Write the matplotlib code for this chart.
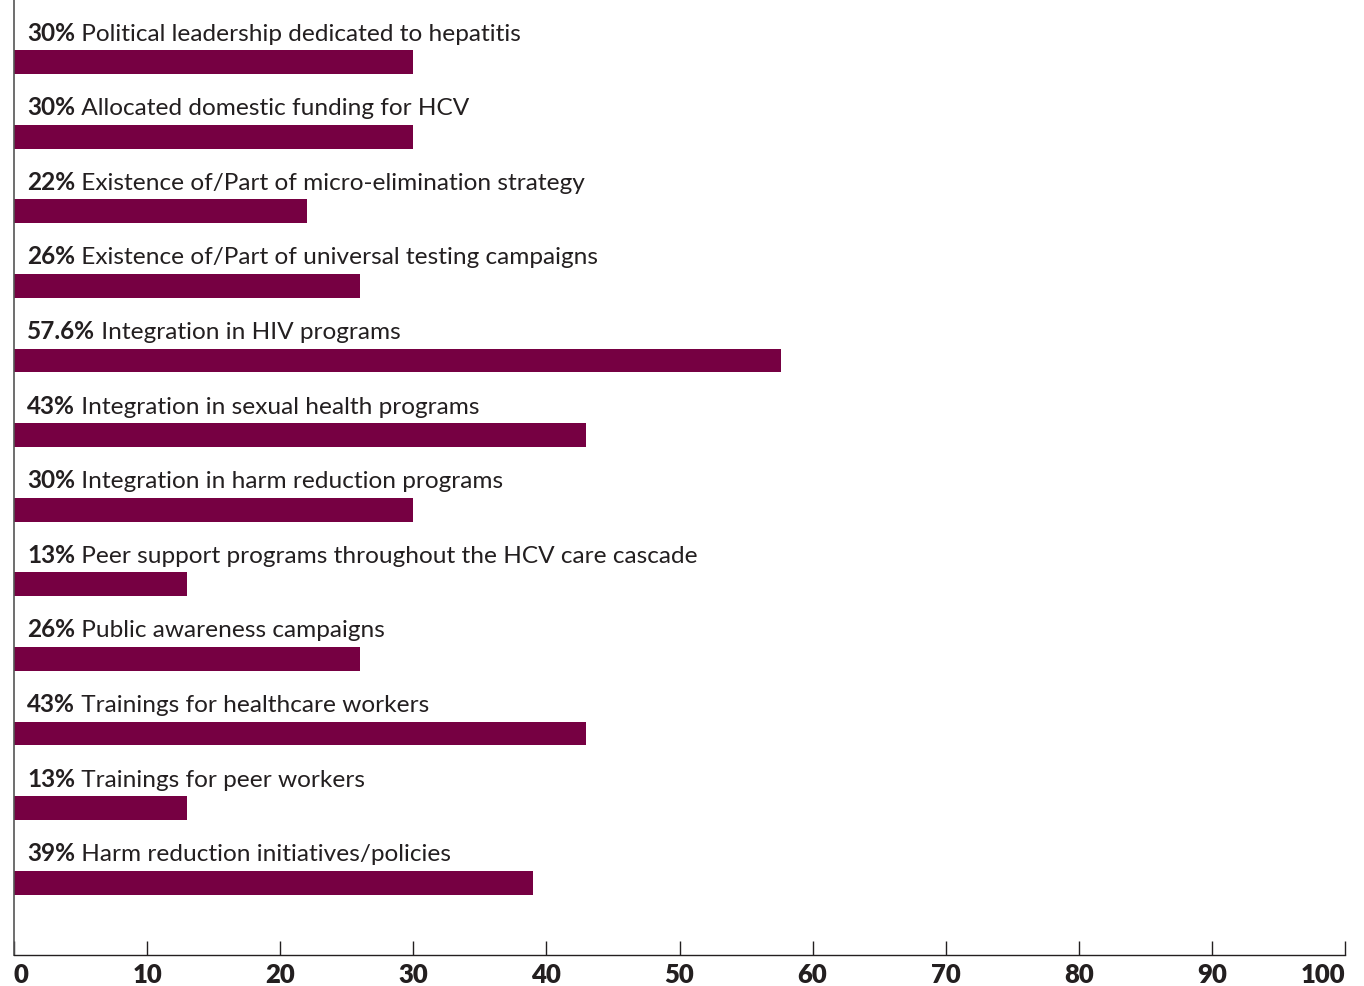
import matplotlib.pyplot as plt

pcts = ['30%', '30%', '22%', '26%', '57.6%', '43%', '30%', '13%', '26%', '43%', '13%', '39%']
values = [30, 30, 22, 26, 57.6, 43, 30, 13, 26, 43, 13, 39]
labels = [
    'Political leadership dedicated to hepatitis',
    'Allocated domestic funding for HCV',
    'Existence of/Part of micro-elimination strategy',
    'Existence of/Part of universal testing campaigns',
    'Integration in HIV programs',
    'Integration in sexual health programs',
    'Integration in harm reduction programs',
    'Peer support programs throughout the HCV care cascade',
    'Public awareness campaigns',
    'Trainings for healthcare workers',
    'Trainings for peer workers',
    'Harm reduction initiatives/policies',
]
xticks = [0, 10, 20, 30, 40, 50, 60, 70, 80, 90, 100]

bar_color = '#760042'
text_color = '#231f20'
plt.rcParams['font.family'] = ['Lato', 'DejaVu Sans']

fig = plt.figure(figsize=(13.64, 9.87), dpi=100)
ax = fig.add_axes([14 / 1364, 31 / 987, 1331 / 1364, 956 / 987])

pos = list(range(len(values)))
ax.barh(pos, values, height=0.32, color=bar_color)

for i in pos:
    t = ax.text(0.98, i - 0.40, pcts[i], fontsize=17.6, fontweight='bold',
                color=text_color, va='center', ha='left')
    ax.annotate(' ' + labels[i], xy=(1, 0), xycoords=t, va='bottom', ha='left',
                fontsize=17.6, color=text_color)

ax.set_xlim(0, 100)
ax.set_ylim(11.97, -0.845)
ax.set_yticks([])
ax.set_xticks(xticks)
ticklabels = ax.set_xticklabels([str(v) for v in xticks], fontsize=18.5, fontweight='heavy',
                                color=text_color)
ticklabels[0].set_ha('left')
ticklabels[-1].set_ha('right')
ticklabels[-1].set_x(101.1)
ax.tick_params(axis='x', direction='in', length=10, width=1, color=text_color, pad=5)
for s in ['top', 'right']:
    ax.spines[s].set_visible(False)
ax.spines['left'].set_color('#555555')
ax.spines['left'].set_linewidth(1.2)
ax.spines['bottom'].set_color(text_color)
ax.spines['bottom'].set_linewidth(1)

fig.savefig('out.png', dpi=100)
